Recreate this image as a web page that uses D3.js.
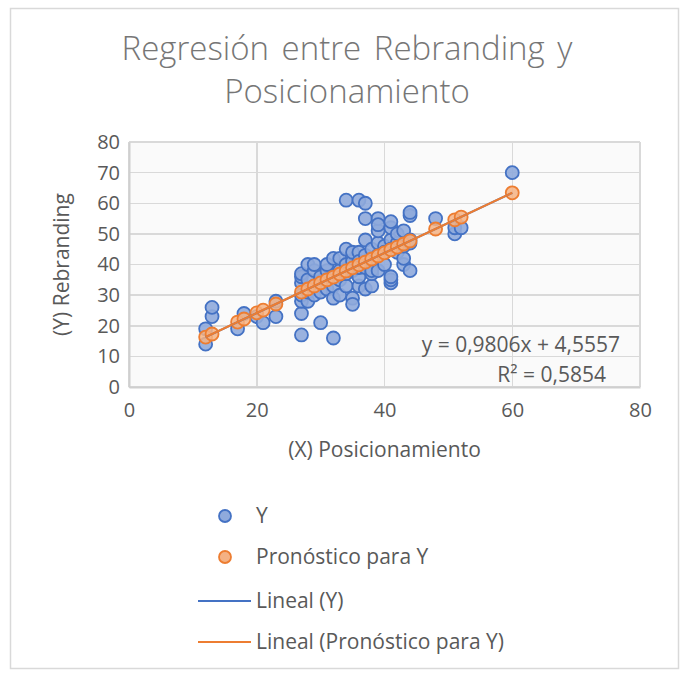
<!DOCTYPE html>
<html lang="es">

<head>
  <title>Regresión entre Rebranding y Posicionamiento</title>
  <meta charset="UTF-8">
  <style>
    body {
      margin: 0;
      background: white;
    }
    #chart text {
      font-family: "Open Sans", Lato, sans-serif;
      fill: #595959;
    }
    .grid line {
      stroke: #d9d9d9;
      stroke-width: 1.5;
      shape-rendering: crispEdges;
    }
  </style>
</head>

<body>
  <div id="chart"></div>

  <script src="https://d3js.org/d3.v7.min.js"></script>

  <script>
    // observed values: (X) Posicionamiento, (Y) Rebranding
    const posX = [12, 12, 13, 13, 17, 18, 20, 21, 23, 23,
      27, 27, 27, 27, 27, 27, 27, 28, 28, 28, 28,
      29, 29, 29, 29, 30, 30, 30, 31, 31, 31, 31,
      32, 32, 32, 32, 32, 33, 33, 33, 33, 34, 34, 34, 34, 34,
      35, 35, 35, 35, 35, 36, 36, 36, 36, 36, 36,
      37, 37, 37, 37, 37, 37, 38, 38, 38, 38, 38,
      39, 39, 39, 39, 39, 39, 40, 40, 40,
      41, 41, 41, 41, 41, 41, 41, 42, 42, 42, 43, 43, 43, 43,
      44, 44, 44, 44, 44, 48, 51, 51, 52, 60];
    const rebY = [14, 19, 23, 26, 19, 24, 23, 21, 23, 28,
      17, 24, 28, 30, 34, 36, 37, 28, 31, 40, 35,
      33, 38, 40, 30, 21, 31, 36, 32, 38, 40, 35,
      16, 29, 42, 36, 33, 30, 38, 42, 35, 33, 45, 61, 40, 37,
      29, 27, 41, 44, 38, 33, 44, 61, 41, 36, 39,
      32, 48, 55, 60, 43, 39, 33, 41, 37, 38, 45,
      38, 47, 51, 55, 53, 43, 40, 46, 44,
      34, 35, 36, 48, 52, 54, 45, 44, 47, 50, 40, 42, 51, 46,
      38, 47, 56, 57, 48, 55, 50, 52, 52, 70];

    // Pronóstico para Y (one per distinct X)
    const predX = [12, 13, 17, 18, 20, 21, 23, 27, 28, 29, 30, 31, 32, 33, 34, 35,
      36, 37, 38, 39, 40, 41, 42, 43, 44, 48, 51, 52, 60];
    const predY = [16.3, 17.3, 21.2, 22.2, 24.2, 25.1, 27.1, 31.0, 32.0, 33.0, 34.0,
      35.0, 35.9, 36.9, 37.9, 38.9, 39.9, 40.8, 41.8, 42.8, 43.8, 44.8, 45.7, 46.7,
      47.7, 51.6, 54.6, 55.5, 63.4];

    // trend line ends
    const trendX = [12, 60];
    const trendY = [16.3, 63.4];

    const xTicks = [0, 20, 40, 60, 80];
    const yTicks = [0, 10, 20, 30, 40, 50, 60, 70, 80];
    const equation = "y = 0,9806x + 4,5557";
    const rSquared = "R² = 0,5854";
    const legendItems = ["Y", "Pronóstico para Y", "Lineal (Y)", "Lineal (Pronóstico para Y)"];

    const W = 688, H = 675;
    const plot = { left: 129, right: 640, top: 142, bottom: 387 };
    const fs = '21px';

    const svg = d3.select('#chart')
      .append('svg')
      .attr('width', W)
      .attr('height', H);

    // outer frame
    svg.append('rect')
      .attr('x', 10.5).attr('y', 8.5)
      .attr('width', 668).attr('height', 660)
      .attr('fill', 'white')
      .attr('stroke', '#d9d9d9')
      .attr('stroke-width', 1.5);

    const x = d3.scaleLinear().domain([0, 80]).range([plot.left, plot.right]);
    const y = d3.scaleLinear().domain([0, 80]).range([plot.bottom, plot.top]);

    // plot area background
    svg.append('rect')
      .attr('x', plot.left).attr('y', plot.top)
      .attr('width', plot.right - plot.left)
      .attr('height', plot.bottom - plot.top)
      .attr('fill', '#fafafa');

    // gridlines
    const grid = svg.append('g').attr('class', 'grid');
    grid.selectAll('.h').data(yTicks).enter().append('line')
      .attr('x1', plot.left).attr('x2', plot.right)
      .attr('y1', d => y(d)).attr('y2', d => y(d));
    grid.selectAll('.v').data(xTicks).enter().append('line')
      .attr('y1', plot.top).attr('y2', plot.bottom)
      .attr('x1', d => x(d)).attr('x2', d => x(d));

    // axes
    const xAxis = svg.append('g')
      .attr('transform', 'translate(0,' + plot.bottom + ')')
      .call(d3.axisBottom(x).tickValues(xTicks).tickSize(0).tickPadding(16));
    const yAxis = svg.append('g')
      .attr('transform', 'translate(' + plot.left + ',0)')
      .call(d3.axisLeft(y).tickValues(yTicks).tickSize(0).tickPadding(9));
    [xAxis, yAxis].forEach(a => {
      a.select('.domain').attr('stroke', '#cfcfcf').attr('stroke-width', 2);
      a.selectAll('text').style('font-size', '20px');
    });

    // axis titles
    svg.append('text')
      .attr('x', x(40)).attr('y', 457)
      .attr('text-anchor', 'middle')
      .style('font-size', fs)
      .text('(X) Posicionamiento');
    svg.append('text')
      .attr('transform', 'translate(69,' + y(40) + ') rotate(-90)')
      .attr('text-anchor', 'middle')
      .style('font-size', fs)
      .text('(Y) Rebranding');

    // title
    const title = svg.append('text')
      .attr('text-anchor', 'middle')
      .style('font-size', '33px')
      .style('font-weight', 300)
      .style('word-spacing', '4px')
      .style('fill', '#767676');
    title.append('tspan').attr('x', 347).attr('y', 60).text('Regresión entre Rebranding y');
    title.append('tspan').attr('x', 347).attr('y', 103).text('Posicionamiento');

    const blueStroke = '#4472c4', blueFill = '#8faadc';
    const orangeStroke = '#ed7d31', orangeFill = '#f4b183';

    // Y markers
    svg.append('g').selectAll('circle')
      .data(d3.range(posX.length))
      .enter().append('circle')
      .attr('cx', i => x(posX[i]))
      .attr('cy', i => y(rebY[i]))
      .attr('r', 6.5)
      .attr('fill', blueFill)
      .attr('fill-opacity', 0.9)
      .attr('stroke', blueStroke)
      .attr('stroke-width', 1.8);

    // Pronóstico markers
    svg.append('g').selectAll('circle')
      .data(d3.range(predX.length))
      .enter().append('circle')
      .attr('cx', i => x(predX[i]))
      .attr('cy', i => y(predY[i]))
      .attr('r', 6.5)
      .attr('fill', orangeFill)
      .attr('fill-opacity', 0.85)
      .attr('stroke', orangeStroke)
      .attr('stroke-width', 1.8);

    // trend lines
    const line = d3.line()
      .x(i => x(trendX[i]))
      .y(i => y(trendY[i]));
    svg.append('path')
      .attr('d', line([0, 1]))
      .attr('stroke', blueStroke)
      .attr('stroke-width', 2)
      .attr('fill', 'none');
    svg.append('path')
      .attr('d', line([0, 1]))
      .attr('stroke', orangeStroke)
      .attr('stroke-width', 2.2)
      .attr('fill', 'none');

    // equation labels
    svg.append('text')
      .attr('x', 620).attr('y', 352)
      .attr('text-anchor', 'end')
      .style('font-size', fs)
      .text(equation);
    svg.append('text')
      .attr('x', 606).attr('y', 382)
      .attr('text-anchor', 'end')
      .style('font-size', fs)
      .text(rSquared);

    // legend
    const legend = svg.append('g');
    const legY = [516, 557, 601, 642];
    legendItems.forEach((name, i) => {
      if (i < 2) {
        legend.append('circle')
          .attr('cx', 225).attr('cy', legY[i])
          .attr('r', 6)
          .attr('fill', i == 0 ? blueFill : orangeFill)
          .attr('stroke', i == 0 ? blueStroke : orangeStroke)
          .attr('stroke-width', 1.8);
      } else {
        legend.append('line')
          .attr('x1', 198).attr('x2', 251)
          .attr('y1', legY[i]).attr('y2', legY[i])
          .attr('stroke', i == 2 ? blueStroke : orangeStroke)
          .attr('stroke-width', 2);
      }
      legend.append('text')
        .attr('x', 256).attr('y', legY[i] + 7)
        .style('font-size', fs)
        .text(name);
    });
  </script>
</body>

</html>
